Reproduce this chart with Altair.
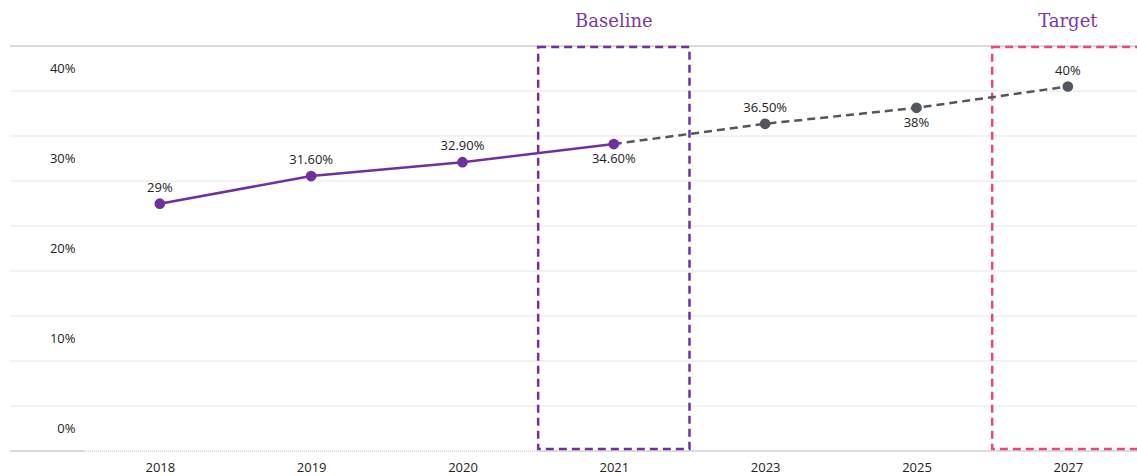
import altair as alt
import pandas as pd

years = ["2018", "2019", "2020", "2021", "2023", "2025", "2027"]
values = [29, 31.6, 32.9, 34.6, 36.5, 38, 40]
labels = ["29%", "31.60%", "32.90%", "34.60%", "36.50%", "38%", "40%"]
label_pos = ["above", "above", "above", "below", "above", "below", "above"]
phase = ["actual", "actual", "actual", "actual", "projected", "projected", "projected"]

axis_ticks = [0, 10, 20, 30, 40]
grid_vals = [2.5, 7.5, 12.5, 17.5, 22.5, 27.5, 32.5, 37.5, 42.5]

PURPLE = "#7030a0"
TITLE_PURPLE = "#7a3a9e"
GRAY = "#53565c"
PINK = "#e94580"

df = pd.DataFrame({
    "idx": list(range(len(years))),
    "year": years,
    "value": values,
    "label": labels,
    "pos": label_pos,
    "phase": phase,
})
actual = df[df["idx"] <= 3]
proj = df[df["idx"] >= 3]

xscale = alt.Scale(domain=[-0.99, 6.457], nice=False, zero=False)
label_expr = "[" + ",".join("'" + y + "'" for y in years) + "][datum.value]"
xaxis = alt.Axis(values=list(range(len(years))), labelExpr=label_expr, ticks=False,
                 domain=False, grid=False, labelPadding=10, labelFontSize=13,
                 labelFont="Open Sans", labelColor="#222", title=None)
x_enc = alt.X("idx:Q", scale=xscale, axis=xaxis)

lab_scale = alt.Scale(domain=[-2.5, 42.5], nice=False, zero=False)
data_scale = alt.Scale(domain=[5.8, 43.8], nice=False, zero=False)

grid_df = pd.DataFrame({"v": grid_vals,
                        "c": ["#e6e6e6"] * (len(grid_vals) - 1) + ["#b8b8b8"]})
grid = alt.Chart(grid_df).mark_rule(strokeWidth=1).encode(
    y=alt.Y("v:Q", scale=lab_scale,
            axis=alt.Axis(values=axis_ticks, labelExpr="datum.value + '%'",
                          ticks=False, tickSize=0, domain=False, grid=False,
                          labelPadding=-65, labelAlign="right", labelFontSize=13,
                          labelFont="Open Sans", labelColor="#222", title=None)),
    color=alt.Color("c:N", scale=None),
)

seg_df = pd.DataFrame({"x0": [-0.99, -0.5, 2.5], "x1": [-0.5, 2.5, 6.457],
                       "v": [-2.5, -2.5, -2.5], "s": ["solid", "dotted", "solid"]})
bottom = alt.Chart(seg_df).mark_rule(strokeWidth=1, color="#b5b5b5").encode(
    x=alt.X("x0:Q", scale=xscale, axis=xaxis),
    x2="x1:Q",
    y=alt.Y("v:Q", scale=lab_scale, axis=None),
    strokeDash=alt.StrokeDash("s:N", scale=alt.Scale(domain=["solid", "dotted"],
                                                       range=[[1, 0], [1, 1]]), legend=None),
)

box_df = pd.DataFrame({"x0": [2.5, 5.5], "x1": [3.5, 6.5], "c": [PURPLE, PINK],
                       "t": ["Baseline", "Target"], "mid": [3, 6]})
boxes = alt.Chart(box_df).mark_rect(fill=None, filled=False, strokeWidth=2.5,
                                    strokeDash=[8, 5]).encode(
    x=alt.X("x0:Q", scale=xscale, axis=xaxis),
    x2="x1:Q",
    y=alt.value(1),
    y2=alt.value(403),
    stroke=alt.Stroke("c:N", scale=None),
)
titles = alt.Chart(box_df).mark_text(font="DejaVu Serif", fontSize=18, color=TITLE_PURPLE,
                                     baseline="middle").encode(
    x=alt.X("mid:Q", scale=xscale, axis=xaxis),
    y=alt.value(-24),
    text="t:N",
)

line_a = alt.Chart(actual).mark_line(color=PURPLE, strokeWidth=2.5).encode(
    x=x_enc, y=alt.Y("value:Q", scale=data_scale, axis=None))
line_p = alt.Chart(proj).mark_line(color=GRAY, strokeWidth=2.5, strokeDash=[8, 5]).encode(
    x=x_enc, y=alt.Y("value:Q", scale=data_scale, axis=None))
points = alt.Chart(df).mark_point(filled=True, size=115, opacity=1).encode(
    x=x_enc, y=alt.Y("value:Q", scale=data_scale, axis=None),
    color=alt.Color("phase:N", scale=alt.Scale(domain=["actual", "projected"],
                                               range=[PURPLE, GRAY]), legend=None))
txt_above = alt.Chart(df[df["pos"] == "above"]).mark_text(
    dy=-16, fontSize=13, font="Open Sans", color="#222").encode(
    x=x_enc, y=alt.Y("value:Q", scale=data_scale, axis=None), text="label:N")
txt_below = alt.Chart(df[df["pos"] == "below"]).mark_text(
    dy=15, fontSize=13, font="Open Sans", color="#222").encode(
    x=x_enc, y=alt.Y("value:Q", scale=data_scale, axis=None), text="label:N")

chart = alt.layer(grid, bottom, boxes, titles, line_a, line_p, points, txt_above, txt_below
                  ).resolve_scale(y="independent").properties(
    width=1127, height=405,
    padding={"left": 10, "top": 46, "right": 0, "bottom": 25},
    autosize=alt.AutoSizeParams(type="none"),
).configure_view(stroke=None)

chart.save("out.html", embed_options={"renderer": "svg", "actions": False})
